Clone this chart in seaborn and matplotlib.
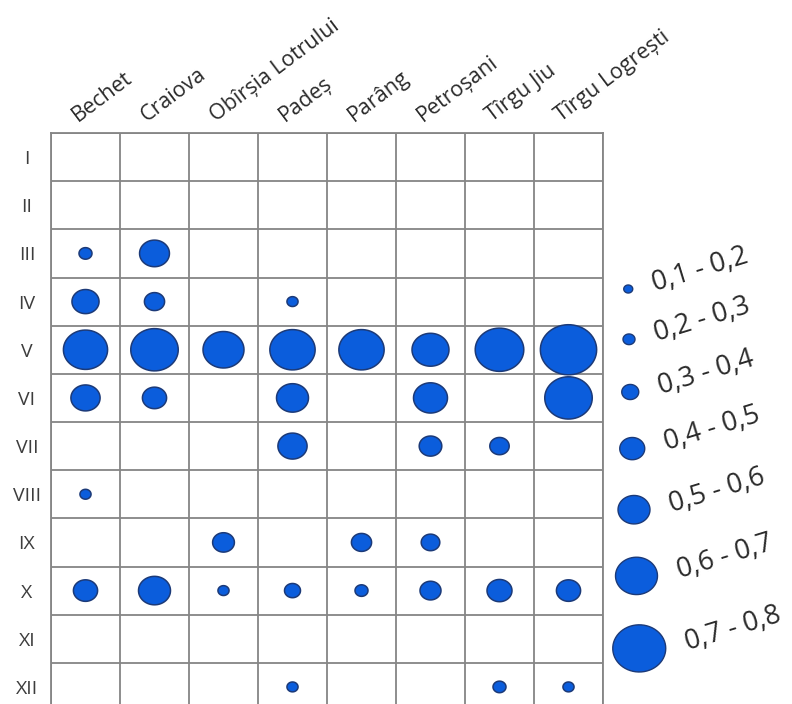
import numpy as np
import pandas as pd
import matplotlib
matplotlib.use("Agg")
import matplotlib.pyplot as plt
import seaborn as sns
from matplotlib.path import Path
from matplotlib import transforms

# ---------------- data ----------------
stations = ["Bechet", "Craiova", "Obîrșia Lotrului", "Padeș", "Parâng",
            "Petroșani", "Tîrgu Jiu", "Tîrgu Logrești"]
months = ["I", "II", "III", "IV", "V", "VI", "VII", "VIII", "IX", "X", "XI", "XII"]
nan = np.nan
bechet      = [nan, nan, 0.27, 0.48, 0.67, 0.51, nan, 0.22, nan, 0.44, nan, nan]
craiova     = [nan, nan, 0.52, 0.39, 0.70, 0.44, nan, nan, nan, 0.55, nan, nan]
obirsia     = [nan, nan, nan, nan, 0.64, nan, nan, nan, 0.41, 0.22, nan, nan]
pades       = [nan, nan, nan, 0.22, 0.68, 0.55, 0.51, nan, nan, 0.33, nan, 0.22]
parang      = [nan, nan, nan, nan, 0.68, nan, nan, nan, 0.39, 0.27, nan, nan]
petrosani   = [nan, nan, nan, nan, 0.60, 0.57, 0.42, nan, 0.37, 0.40, nan, nan]
tg_jiu      = [nan, nan, nan, nan, 0.71, nan, 0.38, nan, nan, 0.45, nan, 0.27]
tg_logresti = [nan, nan, nan, nan, 0.78, 0.70, nan, nan, nan, 0.44, nan, 0.22]

legend_labels = ["0,1 - 0,2", "0,2 - 0,3", "0,3 - 0,4", "0,4 - 0,5",
                 "0,5 - 0,6", "0,6 - 0,7", "0,7 - 0,8"]
legend_values = [0.15, 0.25, 0.35, 0.45, 0.55, 0.65, 0.75]

# ---------------- style ----------------
W, H, DPI = 792, 704, 100
legend_diam_px = [9, 12, 17, 25, 32, 42, 53]   # size scale (px width of bubble)
FACE = "#0b5ddc"
EDGE = "#1c3a78"
GRID = "#858585"
FONT = ["Open Sans", "DejaVu Sans"]

def diam_px(v):
    if v > legend_values[-1]:
        return legend_diam_px[-1] + (v - legend_values[-1]) * 110
    return float(np.interp(v, legend_values, legend_diam_px))

def area_pt2(v):
    return (diam_px(v) * 72.0 / DPI) ** 2

# ellipse marker (slightly wider than tall)
t = np.linspace(0, 2 * np.pi, 60)
ell = Path(np.column_stack([np.cos(t), 0.89 * np.sin(t)]), closed=True)

sns.set_theme(style="white")
plt.rcParams["font.family"] = FONT

series = [bechet, craiova, obirsia, pades, parang, petrosani, tg_jiu, tg_logresti]
rows = []
for si, vals in enumerate(series):
    for mi, v in enumerate(vals):
        if not np.isnan(v):
            rows.append({"station": si, "month": mi, "value": v})
df = pd.DataFrame(rows)
size_map = {v: area_pt2(v) for v in set(df["value"]) | set(legend_values)}

fig = plt.figure(figsize=(W / DPI, H / DPI), dpi=DPI)
left, right, top, bottom = 51, 603, 133, 711
ax = fig.add_axes([left / W, (H - bottom) / H, (right - left) / W, (bottom - top) / H])

sns.scatterplot(data=df, x="station", y="month", size="value", sizes=size_map,
                marker=ell, color=FACE, edgecolor=EDGE, linewidth=1.1,
                legend=False, ax=ax, zorder=3, clip_on=False)

ax.set_xlim(-0.5, len(stations) - 0.5)
ax.set_ylim(len(months) - 0.5, -0.5)
ax.set_xticks(np.arange(len(stations) + 1) - 0.5, minor=True)
ax.set_yticks(np.arange(len(months) + 1) - 0.5, minor=True)
ax.set_xticks([])
ax.set_yticks(range(len(months)), months)
ax.grid(which="minor", color=GRID, linewidth=1.3)
ax.tick_params(which="both", length=0)
ax.tick_params(axis="y", pad=24 * 72 / DPI, labelsize=14, labelcolor="#3d3d3d")
for lab in ax.get_yticklabels():
    lab.set_ha("center")
for sp in ax.spines.values():
    sp.set_color(GRID)
    sp.set_linewidth(1.3)
ax.set_xlabel("")
ax.set_ylabel("")

# column labels, rotated above the grid
off = transforms.ScaledTranslation(-8 / DPI, 11 / DPI, fig.dpi_scale_trans)
btr = transforms.blended_transform_factory(ax.transData, ax.transAxes) + off
for i, name in enumerate(stations):
    ax.text(i, 1.0, name, transform=btr, rotation=37, rotation_mode="anchor",
            ha="left", va="baseline", fontsize=15.5, color="#2a2a2a")

# size legend on the right
ov = fig.add_axes([0, 0, 1, 1], facecolor="none")
ov.set_xlim(0, W)
ov.set_ylim(H, 0)
ov.axis("off")
d = np.array([diam_px(v) for v in legend_values])
gaps = 44 + 0.6 * (d[:-1] + d[1:]) / 2
ly = 289 + np.concatenate([[0], np.cumsum(gaps)])
lx = 626 + 0.25 * d
sns.scatterplot(x=lx, y=ly, size=legend_values, sizes=size_map, marker=ell,
                color=FACE, edgecolor=EDGE, linewidth=1.0, legend=False, ax=ov)
for x0, y0, dd, lab in zip(lx, ly, d, legend_labels):
    ov.text(x0 + dd / 2 + 22, y0 + 2, lab, rotation=17, rotation_mode="anchor",
            ha="left", va="baseline", fontsize=19.5, color="#2a2a2a")

fig.savefig("out.png", dpi=DPI)
